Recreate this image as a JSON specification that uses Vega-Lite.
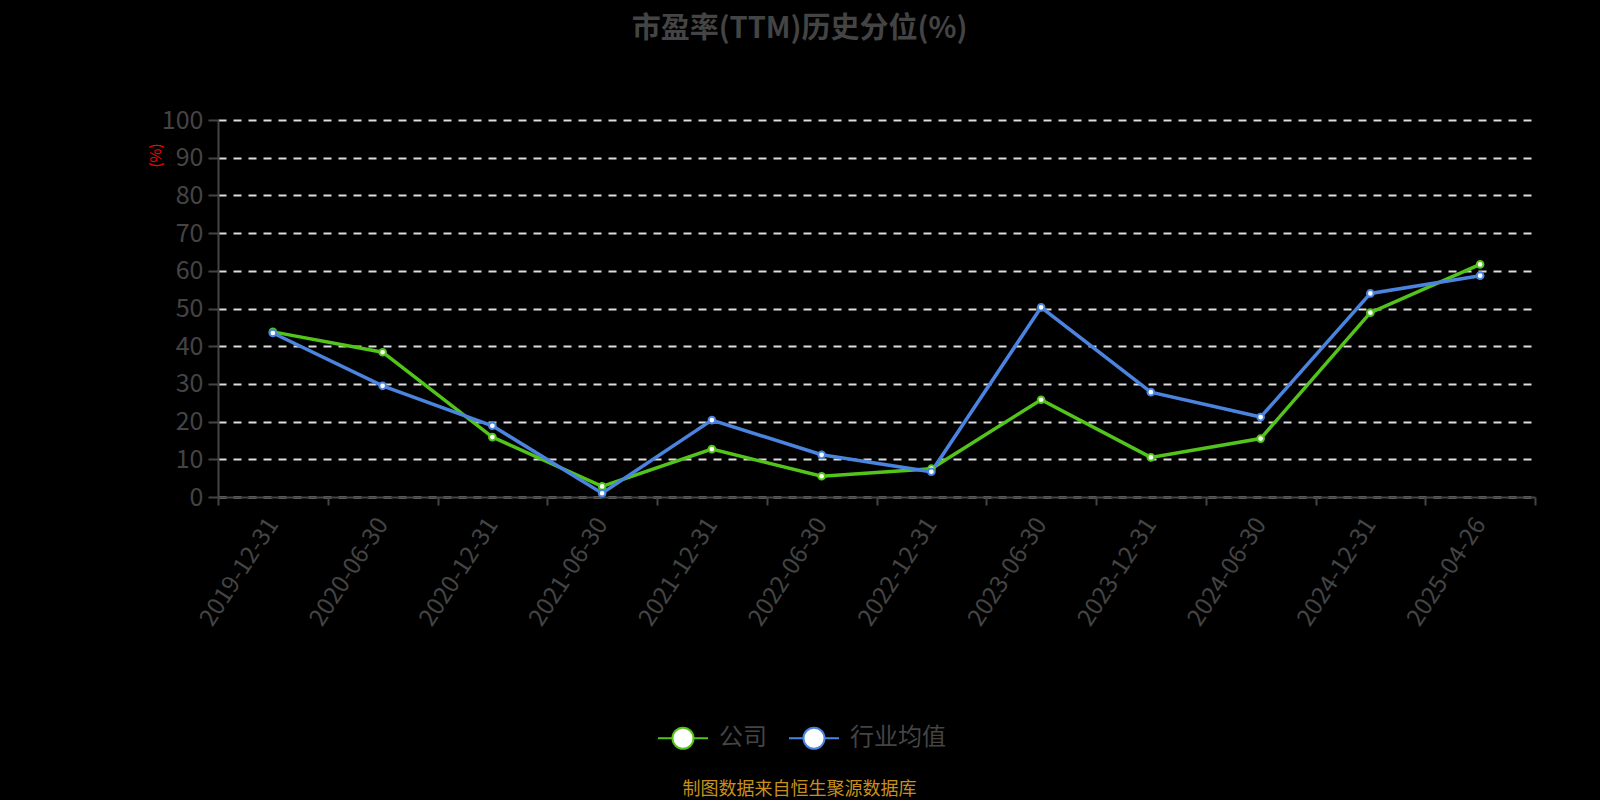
{
  "$schema": "https://vega.github.io/schema/vega-lite/v6.json",
  "autosize": {"type": "none"},
  "width": 1317,
  "height": 377,
  "padding": {"left": 218, "top": 120, "right": 65, "bottom": 303},
  "background": "#000000",
  "view": {"stroke": null},
  "title": {
    "text": "市盈率(TTM)历史分位(%)",
    "font": "Noto Sans CJK SC",
    "fontSize": 29,
    "fontWeight": "bold",
    "color": "#444444",
    "anchor": "middle",
    "dx": -77,
    "offset": 64
  },
  "data": {
    "values": [
      {"date": "2019-12-31", "series": "公司", "value": 43.8},
      {"date": "2020-06-30", "series": "公司", "value": 38.4},
      {"date": "2020-12-31", "series": "公司", "value": 15.9},
      {"date": "2021-06-30", "series": "公司", "value": 2.8},
      {"date": "2021-12-31", "series": "公司", "value": 12.7},
      {"date": "2022-06-30", "series": "公司", "value": 5.5},
      {"date": "2022-12-31", "series": "公司", "value": 7.5},
      {"date": "2023-06-30", "series": "公司", "value": 25.8},
      {"date": "2023-12-31", "series": "公司", "value": 10.5},
      {"date": "2024-06-30", "series": "公司", "value": 15.5},
      {"date": "2024-12-31", "series": "公司", "value": 48.9},
      {"date": "2025-04-26", "series": "公司", "value": 61.7},
      {"date": "2019-12-31", "series": "行业均值", "value": 43.5},
      {"date": "2020-06-30", "series": "行业均值", "value": 29.5},
      {"date": "2020-12-31", "series": "行业均值", "value": 18.9},
      {"date": "2021-06-30", "series": "行业均值", "value": 1.0},
      {"date": "2021-12-31", "series": "行业均值", "value": 20.4},
      {"date": "2022-06-30", "series": "行业均值", "value": 11.2},
      {"date": "2022-12-31", "series": "行业均值", "value": 6.7},
      {"date": "2023-06-30", "series": "行业均值", "value": 50.3},
      {"date": "2023-12-31", "series": "行业均值", "value": 27.8},
      {"date": "2024-06-30", "series": "行业均值", "value": 21.2},
      {"date": "2024-12-31", "series": "行业均值", "value": 54.0},
      {"date": "2025-04-26", "series": "行业均值", "value": 58.7}
    ]
  },
  "encoding": {
    "x": {
      "field": "date",
      "type": "ordinal",
      "sort": null,
      "scale": {"type": "band", "paddingInner": 0, "paddingOuter": 0},
      "axis": {
        "title": "制图数据来自恒生聚源数据库",
        "titleColor": "#c8901a",
        "titleFont": "Noto Sans CJK SC",
        "titleFontSize": 18,
        "titleFontWeight": "normal",
        "titleX": 581,
        "titleY": 292,
        "titleAlign": "center",
        "titleBaseline": "middle",
        "tickBand": "extent",
        "labelAngle": -57,
        "labelAlign": "right",
        "labelBaseline": "middle",
        "labelFont": "Noto Sans CJK SC",
        "labelFontSize": 24,
        "labelColor": "#444444",
        "labelPadding": 15,
        "domainColor": "#444444",
        "domainWidth": 2,
        "tickColor": "#444444",
        "tickWidth": 2,
        "tickSize": 8,
        "grid": false
      }
    },
    "y": {
      "field": "value",
      "type": "quantitative",
      "scale": {"domain": [0, 100], "nice": false},
      "axis": {
        "title": "(%)",
        "titleColor": "#ff0000",
        "titleFont": "Noto Sans CJK SC",
        "titleFontSize": 15,
        "titleFontWeight": "normal",
        "titleAngle": -90,
        "titleX": -63,
        "titleY": 35,
        "titleAlign": "center",
        "titleBaseline": "middle",
        "values": [0, 10, 20, 30, 40, 50, 60, 70, 80, 90, 100],
        "labelFont": "Noto Sans CJK SC",
        "labelFontSize": 25,
        "labelColor": "#444444",
        "labelPadding": 5,
        "domainColor": "#444444",
        "domainWidth": 2,
        "tickColor": "#444444",
        "tickWidth": 2,
        "tickSize": 10,
        "grid": true,
        "gridColor": "#dddddd",
        "gridWidth": 2,
        "gridDash": [8, 7]
      }
    },
    "color": {
      "field": "series",
      "type": "nominal",
      "sort": ["公司", "行业均值"],
      "scale": {"domain": ["公司", "行业均值"], "range": ["#52c41a", "#4a84df"]},
      "legend": {
        "title": null,
        "orient": "none",
        "direction": "horizontal",
        "legendX": 439,
        "legendY": 592,
        "symbolType": "M-1,0H-0.42M0.42,0H1M0.42,0A0.42,0.42 0 1,1 -0.42,0A0.42,0.42 0 1,1 0.42,0",
        "symbolSize": 2500,
        "symbolStrokeWidth": 2,
        "labelFont": "Noto Sans CJK SC",
        "labelFontSize": 24,
        "labelColor": "#444444",
        "labelOffset": 10,
        "columnPadding": 18,
        "encode": {
          "symbols": {"update": {"fill": {"value": "#ffffff"}, "fillOpacity": {"value": 1}, "strokeWidth": {"value": 2}}}
        }
      }
    }
  },
  "layer": [
    {"mark": {"type": "line", "strokeWidth": 3.5}},
    {"mark": {"type": "point", "shape": "circle", "filled": false, "fill": "#ffffff", "fillOpacity": 1, "strokeWidth": 2, "size": 45, "opacity": 1}}
  ]
}
